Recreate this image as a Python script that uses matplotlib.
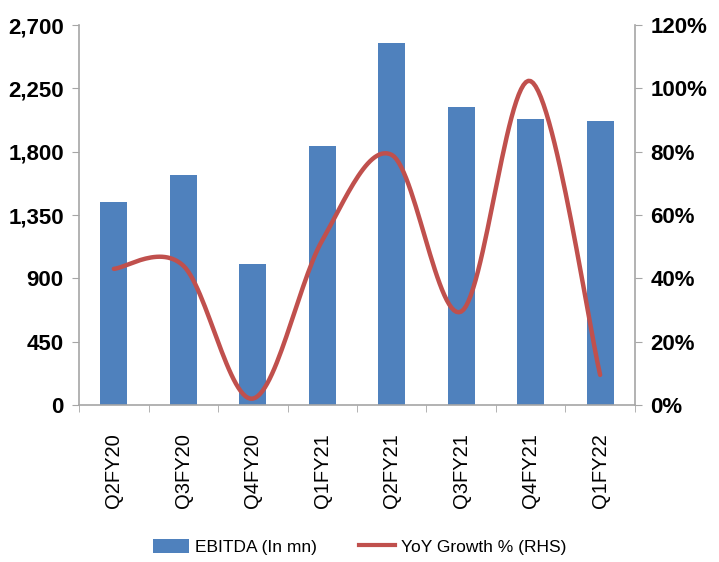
import numpy as np
import matplotlib.pyplot as plt
from matplotlib.lines import Line2D
from matplotlib.patches import Patch

quarters = ['Q2FY20', 'Q3FY20', 'Q4FY20', 'Q1FY21', 'Q2FY21', 'Q3FY21', 'Q4FY21', 'Q1FY22']
ebitda = [1444, 1637, 1002, 1843, 2574, 2120, 2032, 2016]
yoy_growth = [43, 44, 2, 52, 79, 29.5, 102.3, 9.5]

BAR_COLOR = '#4F81BD'
LINE_COLOR = '#C0504D'
SPINE_COLOR = '#A6A6A6'
FONT = ['Liberation Sans Narrow', 'Liberation Sans', 'DejaVu Sans']


def smooth(x, y, n=30):
    # Excel-style smoothed line: cubic bezier through points, Catmull-Rom tangents
    x = np.asarray(x, float)
    y = np.asarray(y, float)
    pts = np.column_stack([x, y])
    out = []
    for i in range(len(pts) - 1):
        p0 = pts[max(i - 1, 0)]
        p1 = pts[i]
        p2 = pts[i + 1]
        p3 = pts[min(i + 2, len(pts) - 1)]
        c1 = p1 + (p2 - p0) / 6
        c2 = p2 - (p3 - p1) / 6
        t = np.linspace(0, 1, n)[:, None]
        seg = ((1 - t) ** 3) * p1 + 3 * ((1 - t) ** 2) * t * c1 + 3 * (1 - t) * t ** 2 * c2 + t ** 3 * p2
        out.append(seg if i == 0 else seg[1:])
    out = np.vstack(out)
    return out[:, 0], out[:, 1]


fig = plt.figure(figsize=(7.19, 5.62), dpi=100)
ax = fig.add_axes([0.110, 0.2794, 0.773, 0.676])
ax2 = ax.twinx()

x = np.arange(len(quarters))
ax.bar(x, ebitda, width=0.39, color=BAR_COLOR, zorder=2)
ax.set_xlim(-0.5, len(quarters) - 0.5)
ax.set_ylim(0, 2700)
ax.set_yticks(np.arange(0, 2701, 450))
ax.set_yticklabels([f'{v:,}' for v in range(0, 2701, 450)], fontfamily=FONT,
                   fontweight='bold', fontsize=16)
ax.set_xticks(x)
ax.set_xticklabels(quarters, rotation=90, fontfamily=FONT, fontsize=14.5)
ax.set_xticks(np.arange(-0.5, len(quarters)), minor=True)
ax.tick_params(axis='x', which='major', length=0, pad=20)
ax.tick_params(axis='x', which='minor', length=5, color=SPINE_COLOR, direction='out')
ax.tick_params(axis='y', length=5, color=SPINE_COLOR, pad=6)

sx, sy = smooth(x, yoy_growth)
ax2.plot(sx, sy, color=LINE_COLOR, linewidth=3.2, solid_capstyle='round', zorder=3)
ax2.set_ylim(0, 120)
ax2.set_yticks(np.arange(0, 121, 20))
ax2.set_yticklabels([f'{v}%' for v in range(0, 121, 20)], fontfamily=FONT,
                    fontweight='bold', fontsize=16)
ax2.tick_params(axis='y', length=5, color=SPINE_COLOR, pad=6)

for a in (ax, ax2):
    a.spines['top'].set_visible(False)
    for s in ('left', 'right', 'bottom'):
        a.spines[s].set_color(SPINE_COLOR)
        a.spines[s].set_linewidth(1.2)
ax.spines['right'].set_visible(False)
ax2.spines['left'].set_visible(False)
ax2.spines['bottom'].set_visible(False)

handles = [Patch(facecolor=BAR_COLOR, label='EBITDA (In mn)'),
           Line2D([0], [0], color=LINE_COLOR, linewidth=3, label='YoY Growth % (RHS)')]
fig.legend(handles=handles, loc='lower center', bbox_to_anchor=(0.50, -0.015), ncol=2,
           frameon=False, prop={'family': FONT, 'size': 12.5}, handlelength=2.1,
           handleheight=0.9, columnspacing=2.4, handletextpad=0.35)

fig.savefig('out.png', dpi=100)
